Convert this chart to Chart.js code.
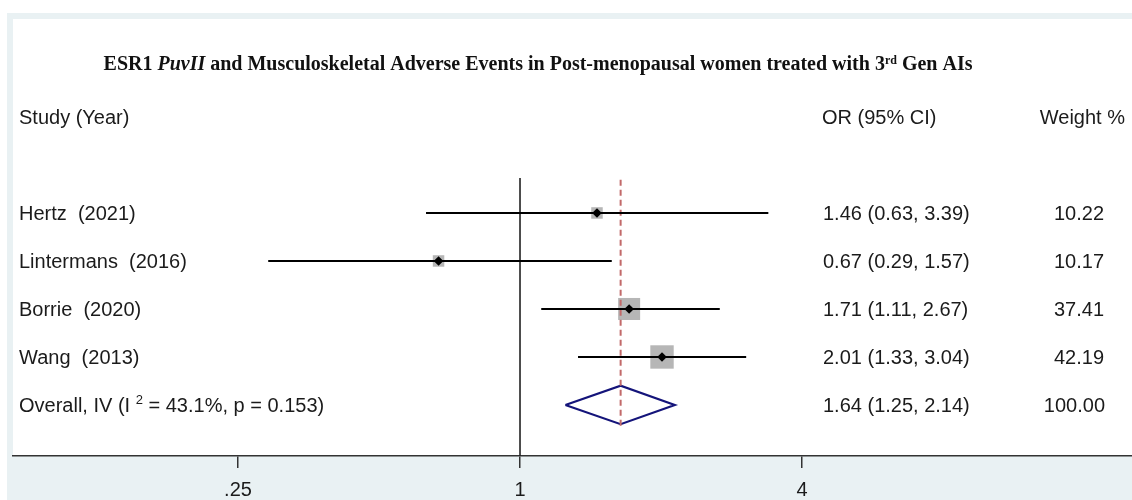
<!DOCTYPE html>
<html>
<head>
<meta charset="utf-8">
<script src="https://cdn.jsdelivr.net/npm/chart.js@4.4.1/dist/chart.umd.min.js"></script>
<style>
  html, body { margin: 0; padding: 0; background: #ffffff; }
  #wrap { width: 1132px; height: 500px; }
</style>
</head>
<body>
<div id="wrap"><canvas id="forest" width="1132" height="500"></canvas></div>
<script>
// Study-level odds ratios with 95% confidence intervals and IV weights
const studies = ['Hertz  (2021)', 'Lintermans  (2016)', 'Borrie  (2020)', 'Wang  (2013)'];
const oddsRatios = [1.46, 0.67, 1.71, 2.01];
const ciLow = [0.63, 0.29, 1.11, 1.33];
const ciHigh = [3.39, 1.57, 2.67, 3.04];
const weights = [10.22, 10.17, 37.41, 42.19];

// Pooled (inverse-variance) estimate
const overallOR = 1.64;
const overallLow = 1.25;
const overallHigh = 2.14;
const overallWeight = 100.00;

// Axis ticks
const tickValues = [0.25, 1, 4];
const tickLabels = ['.25', '1', '4'];

// Visible OR range across the full panel width (log scale)
const xMin = 0.0827;
const xMax = 20.26;

// Row index positions (0 = first study, 4 = overall); header/title rows above
const overallRow = studies.length;
const yTop = -4.04;
const yBottom = 5.0625;

const SANS = '"Liberation Sans", Arial, sans-serif';
const SERIF = '"Liberation Serif", "Times New Roman", serif';
const TEXT_COLOR = '#1b1b1b';

// Box side grows with the square root of the weight (area ~ weight)
const boxSide = w => 3.6 * Math.sqrt(w);

const fmt = v => v.toFixed(2);

const ciDatasets = studies.map((s, i) => ({
  type: 'scatter',
  label: s + ' CI',
  data: [{ x: ciLow[i], y: i }, { x: ciHigh[i], y: i }],
  showLine: true,
  borderColor: '#000000',
  borderWidth: 2,
  pointRadius: 0,
  order: 1
}));

const datasets = [
  {
    type: 'scatter',
    label: 'Point estimates',
    data: oddsRatios.map((v, i) => ({ x: v, y: i })),
    pointStyle: 'rectRot',
    pointRadius: 4.8,
    backgroundColor: '#000000',
    borderWidth: 0,
    order: 0
  },
  ...ciDatasets,
  {
    type: 'scatter',
    label: 'Pooled estimate line',
    data: [{ x: overallOR, y: -0.69 }, { x: overallOR, y: overallRow + 0.47 }],
    showLine: true,
    borderColor: '#c26a6a',
    borderWidth: 2,
    borderDash: [6, 4],
    pointRadius: 0,
    order: 2
  },
  {
    type: 'scatter',
    label: 'Pooled diamond',
    data: [
      { x: overallLow, y: overallRow },
      { x: overallOR, y: overallRow - 0.4 },
      { x: overallHigh, y: overallRow },
      { x: overallOR, y: overallRow + 0.4 },
      { x: overallLow, y: overallRow }
    ],
    showLine: true,
    borderColor: '#14147a',
    borderWidth: 2.2,
    borderJoinStyle: 'miter',
    pointRadius: 0,
    order: 2
  },
  {
    type: 'scatter',
    label: 'No effect',
    data: [{ x: 1, y: -0.73 }, { x: 1, y: yBottom }],
    showLine: true,
    borderColor: '#222222',
    borderWidth: 1.6,
    pointRadius: 0,
    order: 3
  },
  {
    type: 'scatter',
    label: 'Weight boxes',
    data: oddsRatios.map((v, i) => ({ x: v, y: i })),
    pointStyle: 'rect',
    pointRadius: weights.map(w => boxSide(w) / Math.SQRT2),
    backgroundColor: '#b6b6b6',
    borderWidth: 0,
    order: 4
  }
];

// Panel background: light frame band with a white plotting region
const framePlugin = {
  id: 'frame',
  beforeDraw(chart) {
    const ctx = chart.ctx;
    const { top, bottom, left, right } = chart.chartArea;
    ctx.save();
    ctx.fillStyle = '#ffffff';
    ctx.fillRect(0, 0, chart.width, chart.height);
    ctx.fillStyle = '#e9f1f3';
    ctx.fillRect(left - 6, top - 6, chart.width - left + 6, chart.height - top + 6);
    ctx.fillStyle = '#ffffff';
    ctx.fillRect(left, top, right - left, bottom - top);
    ctx.restore();
  }
};

function drawRuns(ctx, runs, x, y, align) {
  const widths = runs.map(r => { ctx.font = r.font; return ctx.measureText(r.text).width; });
  const total = widths.reduce((a, b) => a + b, 0);
  let cx = align === 'center' ? x - total / 2 : (align === 'right' ? x - total : x);
  runs.forEach((r, k) => {
    ctx.font = r.font;
    ctx.textAlign = 'left';
    ctx.fillText(r.text, cx, y + (r.dy || 0));
    cx += widths[k];
  });
}

// Title, column headers and the per-row text columns
const textPlugin = {
  id: 'forestText',
  afterDatasetsDraw(chart) {
    const ctx = chart.ctx;
    const ys = chart.scales.y;
    const rowY = r => ys.getPixelForValue(r) + 1.5;
    const labelX = 19;
    const orX = 823;
    const weightRight = 1104;
    ctx.save();
    ctx.fillStyle = TEXT_COLOR;
    ctx.textBaseline = 'middle';

    // title
    const tf = 'bold 20px ' + SERIF;
    const tfi = 'italic bold 20px ' + SERIF;
    const tfs = 'bold 12px ' + SERIF;
    ctx.fillStyle = '#111111';
    drawRuns(ctx, [
      { text: 'ESR1 ', font: tf },
      { text: 'PuvII', font: tfi },
      { text: ' and Musculoskeletal Adverse Events in Post-menopausal women treated with 3', font: tf },
      { text: 'rd', font: tfs, dy: -4 },
      { text: ' Gen AIs', font: tf }
    ], 538, rowY(-3.12), 'center');

    ctx.fillStyle = TEXT_COLOR;
    const f = '20px ' + SANS;
    ctx.font = f;
    // headers
    ctx.textAlign = 'left';
    ctx.fillText('Study (Year)', labelX, rowY(-2));
    ctx.fillText('OR (95% CI)', orX - 1, rowY(-2));
    ctx.textAlign = 'right';
    ctx.fillText('Weight %', 1125, rowY(-2));

    // study rows
    studies.forEach((s, i) => {
      const y = rowY(i);
      ctx.textAlign = 'left';
      ctx.fillText(s, labelX, y);
      ctx.fillText(fmt(oddsRatios[i]) + ' (' + fmt(ciLow[i]) + ', ' + fmt(ciHigh[i]) + ')', orX, y);
      ctx.textAlign = 'right';
      ctx.fillText(fmt(weights[i]), weightRight, y);
    });

    // overall row
    const yo = rowY(overallRow);
    drawRuns(ctx, [
      { text: 'Overall, IV (I ', font: f },
      { text: '2', font: '13px ' + SANS, dy: -6 },
      { text: ' = 43.1%, p = 0.153)', font: f }
    ], labelX, yo, 'left');
    ctx.font = f;
    ctx.textAlign = 'left';
    ctx.fillText(fmt(overallOR) + ' (' + fmt(overallLow) + ', ' + fmt(overallHigh) + ')', orX, yo);
    ctx.textAlign = 'right';
    ctx.fillText(fmt(overallWeight), weightRight + 1, yo);
    ctx.restore();
  }
};

new Chart(document.getElementById('forest'), {
  type: 'scatter',
  data: { datasets },
  plugins: [framePlugin, textPlugin],
  options: {
    responsive: false,
    animation: false,
    events: [],
    layout: { autoPadding: false, padding: { left: 13, top: 19, right: 0, bottom: 0 } },
    plugins: { legend: { display: false }, tooltip: { enabled: false }, title: { display: false } },
    scales: {
      x: {
        type: 'logarithmic',
        min: xMin,
        max: xMax,
        afterBuildTicks(scale) {
          scale.ticks = tickValues.map(v => ({ value: v }));
        },
        afterFit(scale) { scale.height = 44; },
        ticks: {
          autoSkip: false,
          maxRotation: 0,
          padding: 10,
          color: TEXT_COLOR,
          font: { family: SANS, size: 20 },
          callback: v => tickLabels[tickValues.indexOf(v)] ?? ''
        },
        grid: {
          display: true,
          drawOnChartArea: false,
          drawTicks: true,
          tickLength: 12,
          color: '#333333',
          lineWidth: 1.5
        },
        border: { display: true, color: '#333333', width: 1.5 }
      },
      y: {
        type: 'linear',
        display: false,
        reverse: true,
        min: yTop,
        max: yBottom
      }
    }
  }
});
</script>
</body>
</html>
